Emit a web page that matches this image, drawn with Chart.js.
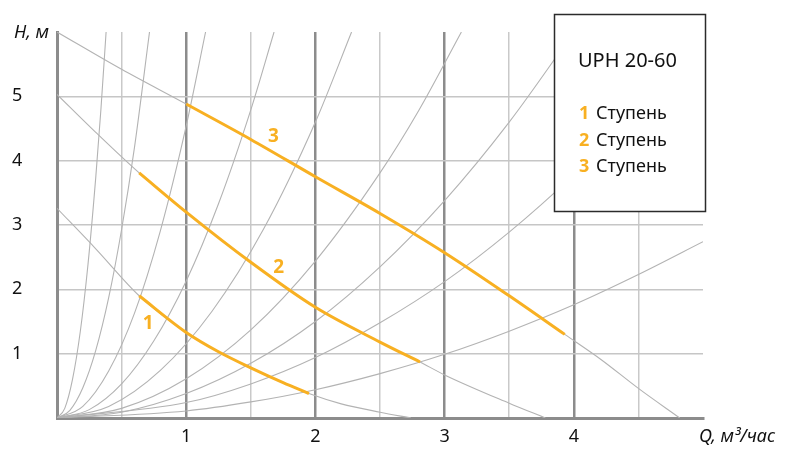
<!DOCTYPE html>
<html>
<head>
<meta charset="utf-8">
<title>UPH 20-60</title>
<style>
  html, body { margin: 0; padding: 0; background: #ffffff; }
  #wrap { width: 787px; height: 449px; }
</style>
<script src="https://cdn.jsdelivr.net/npm/chart.js@4.4.1/dist/chart.umd.min.js"></script>
</head>
<body>
<div id="wrap"><canvas id="chart" width="787" height="449"></canvas></div>
<script>
// Pump model and stage names
const pumpModel = 'UPH 20-60';
const stageNames = ['Ступень', 'Ступень', 'Ступень'];
const stageNumbers = ['1', '2', '3'];

// Axis ticks
const flowTicks = [1, 2, 3, 4];
const headTicks = [1, 2, 3, 4, 5];

// Pump curves, head H (m) against flow Q (m3/h), from shut-off to zero head
const stage1Q = [0, 0.3, 0.636, 1.0, 1.25, 1.5, 1.75, 1.95, 2.2, 2.5, 2.74];
const stage1H = [3.26, 2.63, 1.90, 1.33, 1.03, 0.78, 0.55, 0.38, 0.22, 0.09, 0];
const stage2Q = [0, 0.3, 0.636, 1.0, 1.5, 2.0, 2.5, 2.81, 3.0, 3.5, 3.78];
const stage2H = [5.03, 4.44, 3.81, 3.20, 2.42, 1.72, 1.18, 0.87, 0.67, 0.23, 0];
const stage3Q = [0, 0.5, 1.0, 1.5, 2.0, 2.5, 3.0, 3.5, 3.93, 4.21, 4.5, 4.82];
const stage3H = [6.0, 5.42, 4.88, 4.33, 3.75, 3.18, 2.57, 1.90, 1.30, 0.91, 0.46, 0];

// Working range of each stage (first and last point index of the highlighted part)
const stage1Work = [2, 7];
const stage2Work = [2, 7];
const stage3Work = [2, 8];

// System resistance curves, [Q, H] pairs
const systemCurves = [
  [[0, 0], [0.06, 0.15], [0.12, 0.60], [0.18, 1.34], [0.24, 2.39], [0.30, 3.74], [0.34, 4.80], [0.38, 6.0]],
  [[0, 0], [0.1, 0.12], [0.2, 0.47], [0.3, 1.05], [0.4, 1.87], [0.5, 2.93], [0.6, 4.21], [0.716, 6.0]],
  [[0, 0], [0.2, 0.18], [0.4, 0.73], [0.6, 1.63], [0.8, 2.91], [1.0, 4.54], [1.15, 6.0]],
  [[0, 0], [0.25, 0.13], [0.5, 0.53], [0.75, 1.20], [1.0, 2.13], [1.25, 3.33], [1.5, 4.79], [1.68, 6.0]],
  [[0, 0], [0.4, 0.18], [0.8, 0.74], [1.2, 1.66], [1.6, 2.94], [2.0, 4.60], [2.28, 6.0]],
  [[0, 0], [0.5, 0.15], [1.0, 0.61], [1.5, 1.37], [2.0, 2.44], [2.5, 3.81], [2.8, 4.78], [3.13, 6.0]],
  [[0, 0], [0.5, 0.09], [1.0, 0.38], [1.5, 0.85], [2.0, 1.50], [2.5, 2.35], [3.0, 3.38], [3.5, 4.60], [4.0, 6.0]],
  [[0, 0], [1.0, 0.24], [1.5, 0.53], [2.0, 0.94], [2.5, 1.48], [3.0, 2.12], [3.5, 2.89], [4.0, 3.78], [4.5, 4.78], [5.0, 5.90]],
  [[0, 0], [1.0, 0.11], [1.5, 0.25], [2.0, 0.44], [2.5, 0.69], [3.0, 0.99], [3.5, 1.35], [4.0, 1.76], [4.5, 2.23], [5.0, 2.74]]
];

// Where the stage numbers sit on the chart, [Q, H]
const stageTagAt = [[0.705, 1.475], [1.715, 2.34], [1.675, 4.38]];

const FONT = '"Noto Sans", "Open Sans", "DejaVu Sans", sans-serif';
const ORANGE = '#f8b022';
const CURVE_GREY = '#b3b3b3';

const toPoints = (qs, hs) => qs.map((q, i) => ({ x: q, y: hs[i] }));

const stages = [
  { q: stage1Q, h: stage1H, work: stage1Work },
  { q: stage2Q, h: stage2H, work: stage2Work },
  { q: stage3Q, h: stage3H, work: stage3Work }
];

const datasets = [];

// highlighted working ranges, on top
stages.forEach(s => {
  const pts = toPoints(s.q, s.h).slice(s.work[0], s.work[1] + 1);
  datasets.push({
    data: pts, borderColor: ORANGE, borderWidth: 3,
    cubicInterpolationMode: 'monotone', order: 0
  });
});

// full pump curves in grey
stages.forEach(s => {
  datasets.push({
    data: toPoints(s.q, s.h), borderColor: CURVE_GREY, borderWidth: 1.1,
    cubicInterpolationMode: 'monotone', order: 1
  });
});

// system curves
systemCurves.forEach(c => {
  datasets.push({
    data: c.map(p => ({ x: p[0], y: p[1] })), borderColor: CURVE_GREY, borderWidth: 1.1,
    cubicInterpolationMode: 'monotone', order: 2
  });
});

// stage numbers beside the curves
const stageTags = {
  id: 'stageTags',
  afterDatasetsDraw(chart) {
    const { ctx, scales: { x, y } } = chart;
    ctx.save();
    ctx.font = 'bold 19px ' + FONT;
    ctx.fillStyle = ORANGE;
    ctx.textAlign = 'center';
    ctx.textBaseline = 'middle';
    stageTagAt.forEach((p, i) => {
      ctx.fillText(stageNumbers[i], x.getPixelForValue(p[0]), y.getPixelForValue(p[1]));
    });
    ctx.restore();
  }
};

// axis titles and the model box
const annotations = {
  id: 'annotations',
  afterDraw(chart) {
    const { ctx, chartArea: a } = chart;
    ctx.save();
    ctx.fillStyle = '#111111';
    ctx.textBaseline = 'middle';
    ctx.font = 'italic 18px ' + FONT;
    ctx.textAlign = 'right';
    ctx.fillText('H, м', a.left - 8, a.top + 1);
    ctx.textAlign = 'left';
    ctx.fillText('Q, м³/час', a.right - 4, a.bottom + 19);

    // model box
    const bx = 554.5, by = 14.5, bw = 151, bh = 197;
    ctx.fillStyle = '#ffffff';
    ctx.fillRect(bx, by, bw, bh);
    ctx.strokeStyle = '#2b2b2b';
    ctx.lineWidth = 1.5;
    ctx.strokeRect(bx, by, bw, bh);

    ctx.fillStyle = '#111111';
    ctx.font = '20px ' + FONT;
    ctx.textAlign = 'left';
    ctx.fillText(pumpModel, 578, 61);

    const rows = [114, 140.5, 167];
    stageNames.forEach((name, i) => {
      ctx.font = 'bold 18px ' + FONT;
      ctx.fillStyle = ORANGE;
      ctx.fillText(stageNumbers[i], 579, rows[i]);
      ctx.font = '18px ' + FONT;
      ctx.fillStyle = '#111111';
      ctx.fillText(name, 596, rows[i]);
    });
    ctx.restore();
  }
};

new Chart(document.getElementById('chart'), {
  type: 'line',
  data: { datasets },
  plugins: [stageTags, annotations],
  options: {
    responsive: false,
    animation: false,
    events: [],
    layout: { padding: { left: 12, top: 32, right: 84, bottom: 0 } },
    plugins: { legend: { display: false }, tooltip: { enabled: false } },
    elements: { point: { radius: 0 }, line: { borderCapStyle: 'butt', borderJoinStyle: 'round' } },
    scales: {
      x: {
        type: 'linear', min: 0, max: 5,
        ticks: {
          stepSize: 0.5, autoSkip: false, maxRotation: 0, padding: 8,
          color: '#111111', font: { family: FONT, size: 18 },
          callback: v => flowTicks.includes(v) ? String(v) : ''
        },
        grid: {
          drawTicks: false,
          color: c => {
            const v = c.tick ? c.tick.value : 0;
            if (v <= 0 || v >= 5) return 'rgba(0,0,0,0)';
            return Number.isInteger(v) ? '#8c8c8c' : '#c9c9c9';
          },
          lineWidth: c => (c.tick && Number.isInteger(c.tick.value)) ? 2.5 : 1.5
        },
        border: { color: '#8c8c8c', width: 3 },
        afterFit: s => { s.height = 31; }
      },
      y: {
        type: 'linear', min: 0, max: 6,
        ticks: {
          stepSize: 1, crossAlign: 'far', padding: 0,
          color: '#111111', font: { family: FONT, size: 18 },
          callback: v => headTicks.includes(v) ? String(v) : ''
        },
        grid: {
          drawTicks: false,
          color: c => {
            const v = c.tick ? c.tick.value : 0;
            return (v <= 0 || v >= 6) ? 'rgba(0,0,0,0)' : '#c6c6c6';
          },
          lineWidth: 1.5
        },
        border: { color: '#8c8c8c', width: 3 },
        afterFit: s => { s.width = 45; }
      }
    }
  }
});
</script>
</body>
</html>
